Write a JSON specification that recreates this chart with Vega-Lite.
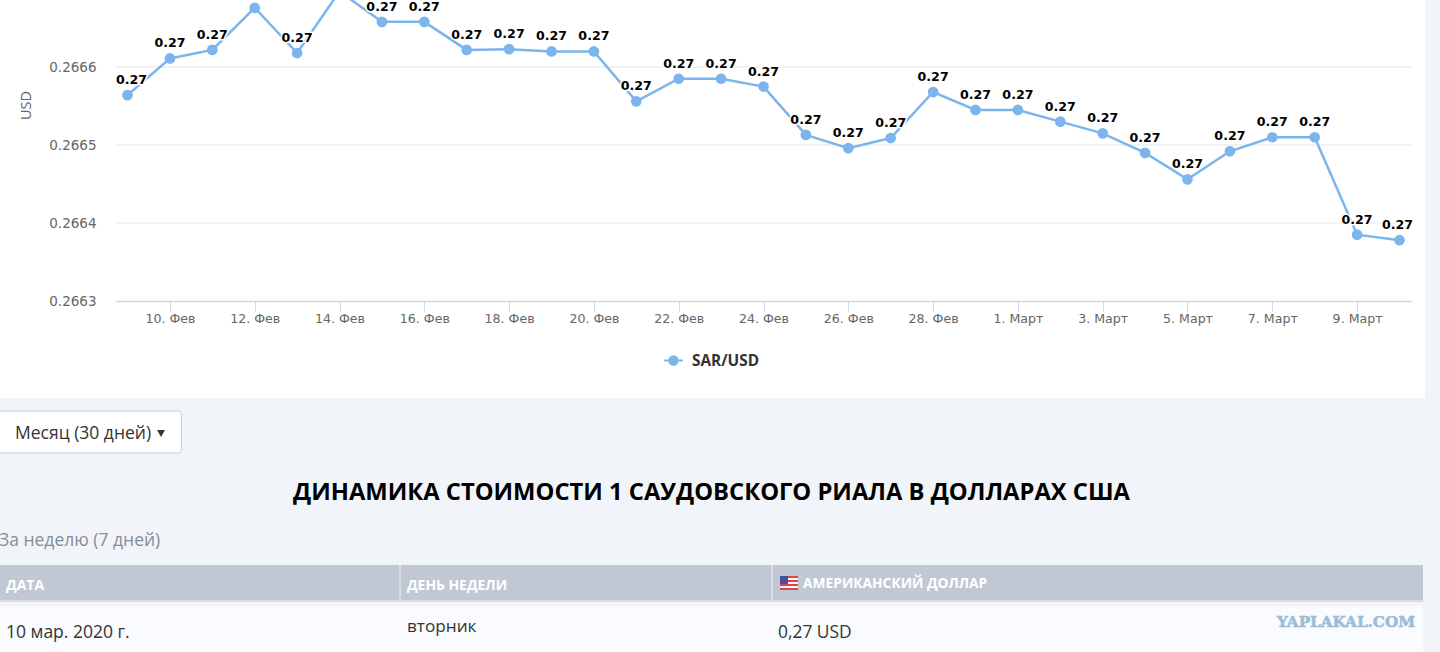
{
  "$schema": "https://vega.github.io/schema/vega-lite/v6.json",
  "width": 1440,
  "height": 652,
  "padding": 0,
  "autosize": "none",
  "background": "#f1f4f9",
  "view": {"stroke": null},
  "datasets": {
    "rates": [
      {"day": "9. Фев", "rate": 0.266564, "label": "0.27", "series": "SAR/USD"},
      {"day": "10. Фев", "rate": 0.266611, "label": "0.27", "series": "SAR/USD"},
      {"day": "11. Фев", "rate": 0.266622, "label": "0.27", "series": "SAR/USD"},
      {"day": "12. Фев", "rate": 0.266676, "label": "", "series": "SAR/USD"},
      {"day": "13. Фев", "rate": 0.266618, "label": "0.27", "series": "SAR/USD"},
      {"day": "14. Фев", "rate": 0.266697, "label": "", "series": "SAR/USD"},
      {"day": "15. Фев", "rate": 0.266658, "label": "0.27", "series": "SAR/USD"},
      {"day": "16. Фев", "rate": 0.266658, "label": "0.27", "series": "SAR/USD"},
      {"day": "17. Фев", "rate": 0.266622, "label": "0.27", "series": "SAR/USD"},
      {"day": "18. Фев", "rate": 0.266623, "label": "0.27", "series": "SAR/USD"},
      {"day": "19. Фев", "rate": 0.266620, "label": "0.27", "series": "SAR/USD"},
      {"day": "20. Фев", "rate": 0.266620, "label": "0.27", "series": "SAR/USD"},
      {"day": "21. Фев", "rate": 0.266556, "label": "0.27", "series": "SAR/USD"},
      {"day": "22. Фев", "rate": 0.266585, "label": "0.27", "series": "SAR/USD"},
      {"day": "23. Фев", "rate": 0.266585, "label": "0.27", "series": "SAR/USD"},
      {"day": "24. Фев", "rate": 0.266575, "label": "0.27", "series": "SAR/USD"},
      {"day": "25. Фев", "rate": 0.266513, "label": "0.27", "series": "SAR/USD"},
      {"day": "26. Фев", "rate": 0.266496, "label": "0.27", "series": "SAR/USD"},
      {"day": "27. Фев", "rate": 0.266509, "label": "0.27", "series": "SAR/USD"},
      {"day": "28. Фев", "rate": 0.266568, "label": "0.27", "series": "SAR/USD"},
      {"day": "29. Фев", "rate": 0.266545, "label": "0.27", "series": "SAR/USD"},
      {"day": "1. Март", "rate": 0.266545, "label": "0.27", "series": "SAR/USD"},
      {"day": "2. Март", "rate": 0.266530, "label": "0.27", "series": "SAR/USD"},
      {"day": "3. Март", "rate": 0.266515, "label": "0.27", "series": "SAR/USD"},
      {"day": "4. Март", "rate": 0.266490, "label": "0.27", "series": "SAR/USD"},
      {"day": "5. Март", "rate": 0.266456, "label": "0.27", "series": "SAR/USD"},
      {"day": "6. Март", "rate": 0.266492, "label": "0.27", "series": "SAR/USD"},
      {"day": "7. Март", "rate": 0.266510, "label": "0.27", "series": "SAR/USD"},
      {"day": "8. Март", "rate": 0.266510, "label": "0.27", "series": "SAR/USD"},
      {"day": "9. Март", "rate": 0.266385, "label": "0.27", "series": "SAR/USD"},
      {"day": "10. Март", "rate": 0.266378, "label": "0.27", "series": "SAR/USD"}
    ],
    "gridlines": [{"rate": 0.2664}, {"rate": 0.2665}, {"rate": 0.2666}],
    "one": [{}]
  },
  "layer": [
    {"data": {"name": "one"}, "mark": {"type": "rect", "x": 0, "x2": 1425, "y": 0, "y2": 398, "fill": "#ffffff"}},
    {"data": {"name": "one"}, "mark": {"type": "rect", "x": -3, "x2": 181.5, "y": 411, "y2": 453, "fill": "#ffffff", "stroke": "#cccccc", "cornerRadius": 4}},
    {"data": {"name": "one"}, "mark": {"type": "text", "x": 15, "y": 434, "align": "left", "baseline": "middle", "font": "Open Sans", "fontSize": 17.5, "fill": "#333333", "text": "Месяц (30 дней)"}},
    {"data": {"name": "one"}, "mark": {"type": "point", "x": 161, "y": 433.5, "shape": "triangle-down", "size": 62, "filled": true, "fill": "#333333", "opacity": 1}},
    {"data": {"name": "one"}, "mark": {"type": "text", "x": 711.5, "y": 492.5, "align": "center", "baseline": "middle", "font": "Open Sans", "fontWeight": "bold", "fontSize": 23.75, "fill": "#000000", "text": "ДИНАМИКА СТОИМОСТИ 1 САУДОВСКОГО РИАЛА В ДОЛЛАРАХ США"}},
    {"data": {"name": "one"}, "mark": {"type": "text", "x": -1, "y": 541, "align": "left", "baseline": "middle", "font": "Open Sans", "fontSize": 17.5, "fill": "#868e96", "text": "За неделю (7 дней)"}},
    {"data": {"name": "one"}, "mark": {"type": "rect", "x": 0, "x2": 1423, "y": 565, "y2": 602, "fill": "#d9dde5"}},
    {"data": {"name": "one"}, "mark": {"type": "rect", "x": 0, "x2": 1423, "y": 565, "y2": 600, "fill": "#c0c8d4"}},
    {"data": {"name": "one"}, "mark": {"type": "rect", "x": 399, "x2": 401, "y": 565, "y2": 602, "fill": "#d9dde5"}},
    {"data": {"name": "one"}, "mark": {"type": "rect", "x": 771, "x2": 773, "y": 565, "y2": 602, "fill": "#d9dde5"}},
    {"data": {"name": "one"}, "mark": {"type": "rect", "x": 0, "x2": 1423, "y": 606, "y2": 652, "fill": "#f9fbfe"}},
    {"data": {"name": "one"}, "mark": {"type": "rect", "x": 780, "x2": 798, "y": 576, "y2": 590, "fill": "#d9474b"}},
    {"data": {"name": "one"}, "mark": {"type": "rect", "x": 780, "x2": 798, "y": 578, "y2": 580, "fill": "#f4f4f4"}},
    {"data": {"name": "one"}, "mark": {"type": "rect", "x": 780, "x2": 798, "y": 582, "y2": 584, "fill": "#f4f4f4"}},
    {"data": {"name": "one"}, "mark": {"type": "rect", "x": 780, "x2": 798, "y": 586, "y2": 588, "fill": "#f4f4f4"}},
    {"data": {"name": "one"}, "mark": {"type": "rect", "x": 780, "x2": 788, "y": 576, "y2": 584, "fill": "#4a4f9e"}},
    {"data": {"name": "one"}, "mark": {"type": "text", "x": 6, "y": 586, "align": "left", "baseline": "middle", "font": "Open Sans", "fontWeight": "bold", "fontSize": 14, "fill": "#ffffff", "text": "ДАТА"}},
    {"data": {"name": "one"}, "mark": {"type": "text", "x": 407, "y": 586, "align": "left", "baseline": "middle", "font": "Open Sans", "fontWeight": "bold", "fontSize": 13.9, "fill": "#ffffff", "text": "ДЕНЬ НЕДЕЛИ"}},
    {"data": {"name": "one"}, "mark": {"type": "text", "x": 803, "y": 584, "align": "left", "baseline": "middle", "font": "Open Sans", "fontWeight": "bold", "fontSize": 13.8, "fill": "#ffffff", "text": "АМЕРИКАНСКИЙ ДОЛЛАР"}},
    {"data": {"name": "one"}, "mark": {"type": "text", "x": 6, "y": 632.5, "align": "left", "baseline": "middle", "font": "Open Sans", "fontSize": 17.5, "fill": "#333333", "text": "10 мар. 2020 г."}},
    {"data": {"name": "one"}, "mark": {"type": "text", "x": 407, "y": 626.5, "align": "left", "baseline": "middle", "font": "Open Sans", "fontSize": 17.2, "fill": "#333333", "text": "вторник"}},
    {"data": {"name": "one"}, "mark": {"type": "text", "x": 778, "y": 632.5, "align": "left", "baseline": "middle", "font": "Open Sans", "fontSize": 17.4, "fill": "#333333", "text": "0,27 USD"}},
    {"data": {"name": "one"}, "mark": {"type": "text", "x": 1277, "y": 622, "align": "left", "baseline": "middle", "font": "DejaVu Serif", "fontWeight": "bold", "fontSize": 15.2, "fill": "#9dbdd6", "stroke": "#9dbdd6", "strokeWidth": 0.6, "text": "YAPLAKAL.COM"}},
    {
      "data": {"name": "gridlines"},
      "mark": {"type": "rule", "x": 115, "x2": 1412, "stroke": "#e6e6e6", "strokeWidth": 1},
      "encoding": {
        "y": {"field": "rate", "type": "quantitative", "scale": {"domain": [0.2663, 0.266686], "range": [301, 0], "nice": false, "zero": false}}
      }
    },
    {
      "data": {"name": "rates"},
      "encoding": {
        "x": {
          "field": "day",
          "type": "ordinal",
          "sort": null,
          "title": null,
          "scale": {"type": "point", "range": [115, 1412], "padding": 0.295},
          "axis": {
            "orient": "bottom",
            "offset": -351,
            "zindex": 1,
            "values": ["10. Фев", "12. Фев", "14. Фев", "16. Фев", "18. Фев", "20. Фев", "22. Фев", "24. Фев", "26. Фев", "28. Фев", "1. Март", "3. Март", "5. Март", "7. Март", "9. Март"],
            "labelAngle": 0,
            "labelOverlap": false,
            "labelFont": "DejaVu Sans",
            "labelFontSize": 12.6,
            "labelColor": "#666666",
            "labelPadding": 1,
            "domainColor": "#ccd6eb",
            "domainWidth": 1.5,
            "tickColor": "#ccd6eb",
            "tickSize": 10,
            "grid": false
          }
        },
        "y": {
          "field": "rate",
          "type": "quantitative",
          "scale": {"domain": [0.2663, 0.266686], "range": [301, 0], "nice": false, "zero": false},
          "axis": {
            "orient": "left",
            "offset": -115,
            "zindex": 1,
            "values": [0.2663, 0.2664, 0.2665, 0.2666],
            "format": ".4f",
            "domain": false,
            "ticks": false,
            "grid": false,
            "labelFont": "DejaVu Sans",
            "labelFontSize": 13.5,
            "labelColor": "#666666",
            "labelPadding": 19,
            "title": "USD",
            "titleFont": "Open Sans",
            "titleFontSize": 14.5,
            "titleFontWeight": "normal",
            "titleColor": "#666666",
            "titleX": -82,
            "titleY": 105
          }
        }
      },
      "layer": [
        {
          "mark": {"type": "line", "strokeWidth": 2.5, "clip": true},
          "encoding": {
            "color": {
              "field": "series",
              "type": "nominal",
              "scale": {"domain": ["SAR/USD"], "range": ["#7cb5ec"]},
              "legend": {
                "orient": "none",
                "legendX": 663,
                "legendY": 350,
                "title": null,
                "symbolType": "M-1,0H-0.45M0.45,0H1M0.45,0A0.45,0.45,0,1,1,-0.45,0A0.45,0.45,0,1,1,0.45,0Z",
                "symbolSize": 350,
                "symbolStrokeWidth": 2,
                "symbolFillColor": "#7cb5ec",
                "labelFont": "Open Sans",
                "labelFontWeight": "bold",
                "labelFontSize": 15.4,
                "labelColor": "#333333",
                "labelOffset": 8
              }
            }
          }
        },
        {"mark": {"type": "point", "filled": true, "size": 115, "opacity": 1, "fill": "#7cb5ec", "clip": true}},
        {
          "mark": {"type": "text", "dx": {"expr": "datum.day === '9. Фев' ? 4 : datum.day === '10. Март' ? -2 : 0"}, "dy": -15, "font": "DejaVu Sans", "fontWeight": "bold", "fontSize": 12.6, "stroke": "#ffffff", "strokeWidth": 3, "strokeJoin": "round"},
          "encoding": {"text": {"field": "label"}}
        },
        {
          "mark": {"type": "text", "dx": {"expr": "datum.day === '9. Фев' ? 4 : datum.day === '10. Март' ? -2 : 0"}, "dy": -15, "font": "DejaVu Sans", "fontWeight": "bold", "fontSize": 12.6, "fill": "#000000"},
          "encoding": {"text": {"field": "label"}}
        }
      ]
    }
  ]
}
